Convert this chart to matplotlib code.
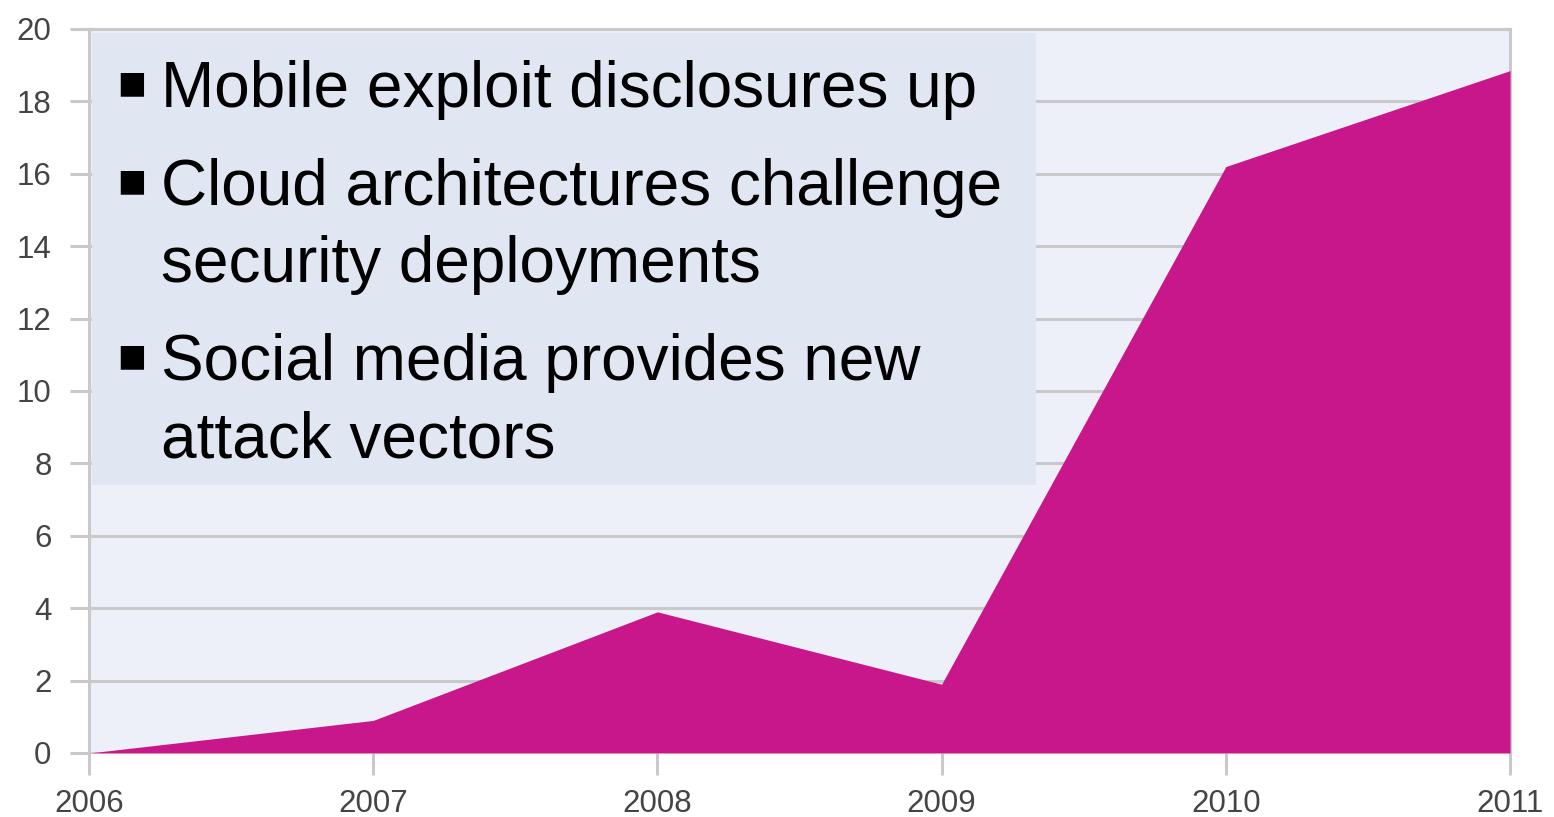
import matplotlib
matplotlib.use("Agg")
import matplotlib.pyplot as plt
from matplotlib.patches import Rectangle

years = [2006, 2007, 2008, 2009, 2010, 2011]
values = [0.0, 0.9, 3.9, 1.9, 16.2, 18.85]
y_ticks = [0, 2, 4, 6, 8, 10, 12, 14, 16, 18, 20]
bullets = [
    ("Mobile exploit disclosures up",),
    ("Cloud architectures challenge", "security deployments"),
    ("Social media provides new", "attack vectors"),
]

W, H = 1554, 817
fig = plt.figure(figsize=(W / 100, H / 100), dpi=100)
x0, x1, yb, yt = 89, 1510, 753, 29
ax = fig.add_axes([x0 / W, 1 - yb / H, (x1 - x0) / W, (yb - yt) / H])
ax.set_facecolor("#EDF0F9")
ax.fill_between(years, values, 0, color="#C8178A", linewidth=0, zorder=3)
ax.set_xlim(2006, 2011)
ax.set_ylim(0, 20)
ax.set_xticks(years)
ax.set_yticks(y_ticks)
grid_c = "#C9C9CB"
ax.grid(axis="y", color=grid_c, linewidth=2.2, zorder=1)
ax.set_axisbelow(True)
for s in ["top", "right", "left"]:
    ax.spines[s].set_color(grid_c)
    ax.spines[s].set_linewidth(2.2)
ax.spines["bottom"].set_visible(False)
ax.spines["left"].set_bounds(0, 20)
ax.tick_params(axis="y", length=14, width=2.2, color=grid_c, labelsize=22.5,
               labelcolor="#444444", pad=13)
ax.tick_params(axis="x", length=16, width=2.2, color=grid_c, labelsize=22.5,
               labelcolor="#444444", pad=10, direction="out")
for lab in ax.get_xticklabels() + ax.get_yticklabels():
    lab.set_family(["Liberation Sans", "DejaVu Sans"])

# text box
fig.patches.append(Rectangle((92 / W, 1 - 485 / H), (1036 - 92) / W, (485 - 33) / H,
                             transform=fig.transFigure, facecolor="#E0E6F2",
                             edgecolor="none", zorder=5))
fs = 46
ys_first = [107, 205, 380]
line_gap = 77
for (lines, yf) in zip(bullets, ys_first):
    fig.text(117 / W, 1 - (yf - 23) / H, "\u25A0", fontsize=22, family="DejaVu Sans",
             va="center", ha="left", zorder=6)
    for i, ln in enumerate(lines):
        fig.text(161 / W, 1 - (yf + i * line_gap) / H, ln, fontsize=fs,
                 family=["Liberation Sans", "DejaVu Sans"], va="baseline",
                 ha="left", color="black", zorder=6)

fig.savefig("out.png", dpi=100)
